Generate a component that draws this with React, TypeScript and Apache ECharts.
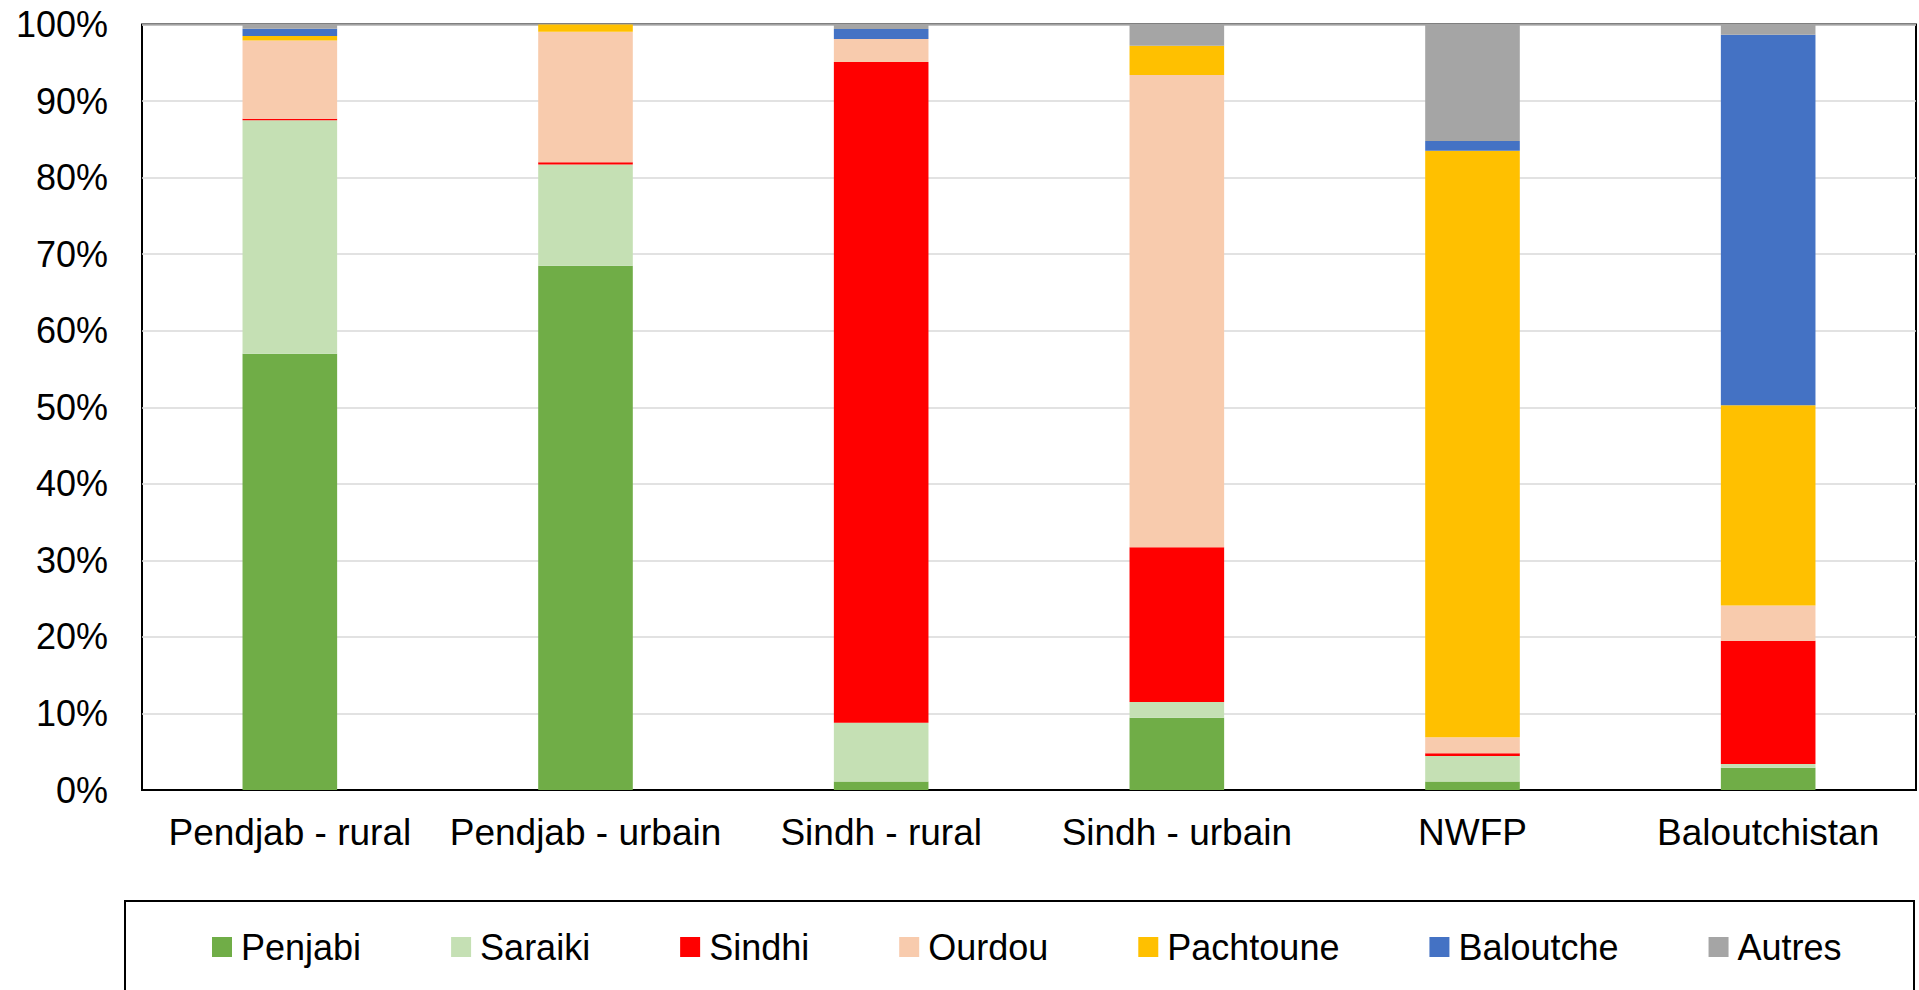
import React, { useEffect, useRef } from "react";
import * as echarts from "echarts";

const categories = ["Pendjab - rural", "Pendjab - urbain", "Sindh - rural", "Sindh - urbain", "NWFP", "Baloutchistan"];
const seriesNames = ["Penjabi", "Saraiki", "Sindhi", "Ourdou", "Pachtoune", "Baloutche", "Autres"];
const colors = ["#70AD47", "#C5E0B4", "#FF0000", "#F8CBAD", "#FFC000", "#4472C4", "#A5A5A5"];

const penjabi = [57.0, 68.5, 1.1, 9.45, 1.1, 2.9];
const saraiki = [30.5, 13.2, 7.7, 2.05, 3.35, 0.5];
const sindhi = [0.2, 0.3, 86.3, 20.2, 0.35, 16.1];
const ourdou = [10.2, 17.06, 3.0, 61.7, 2.1, 4.6];
const pachtoune = [0.6, 0.94, 0, 3.83, 76.6, 26.15];
const baloutche = [0.95, 0, 1.3, 0, 1.28, 48.4];
const autres = [0.55, 0, 0.6, 2.77, 15.22, 1.35];

const yTicks = [0, 10, 20, 30, 40, 50, 60, 70, 80, 90, 100];

const FONT = "'Liberation Sans', Arial, sans-serif";

export default function App() {
  const ref = useRef<HTMLDivElement>(null);
  useEffect(() => {
    if (!ref.current) return;
    const chart = echarts.init(ref.current, undefined, { renderer: "svg" });
    const values = [penjabi, saraiki, sindhi, ourdou, pachtoune, baloutche, autres];
    chart.setOption({
      animation: false,
      backgroundColor: "#ffffff",
      textStyle: { fontFamily: FONT },
      grid: {
        left: 142,
        right: 3,
        top: 24.5,
        bottom: 200,
        show: true,
        borderColor: "#000000",
        borderWidth: 2,
        backgroundColor: "transparent",
      },
      legend: {
        data: seriesNames,
        left: 212,
        top: 929,
        padding: 0,
        itemWidth: 20,
        itemHeight: 20,
        itemGap: 90,
        icon: "rect",
        textStyle: { fontSize: 36, color: "#000000", fontFamily: FONT, padding: [0, 0, 0, 4], lineHeight: 36 },
      },
      graphic: [
        {
          type: "rect",
          shape: { x: 125, y: 901, width: 1789, height: 200 },
          style: { fill: "none", stroke: "#000000", lineWidth: 2 },
          silent: true,
        },
      ],
      xAxis: {
        type: "category",
        data: categories,
        axisLine: { show: true, lineStyle: { color: "#000000", width: 2 } },
        axisTick: { show: false },
        axisLabel: { fontSize: 37, color: "#000000", fontFamily: FONT, margin: 24, interval: 0 },
      },
      yAxis: {
        type: "value",
        min: yTicks[0],
        max: yTicks[yTicks.length - 1],
        interval: 10,
        axisLine: { show: false },
        axisTick: { show: false },
        splitLine: { show: true, lineStyle: { color: "#D9D9D9", width: 1.5 } },
        axisLabel: { fontSize: 36, color: "#000000", fontFamily: FONT, margin: 34, formatter: "{value}%" },
      },
      series: seriesNames.map((name, i) => ({
        name,
        type: "bar",
        stack: "total",
        barWidth: "32%",
        data: values[i],
        itemStyle: { color: colors[i] },
      })),
    });
    return () => chart.dispose();
  }, []);
  return (
    <div
      ref={ref}
      style={{ position: "absolute", left: 0, top: 0, width: 1919, height: 990 }}
    />
  );
}
